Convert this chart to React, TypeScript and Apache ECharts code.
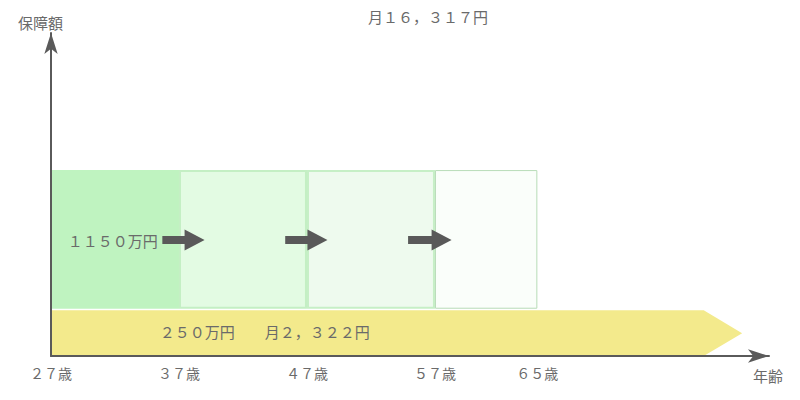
import React, { useEffect, useRef } from 'react';
import * as echarts from 'echarts';

// ---- data ----
const ageTicks = [27, 37, 47, 57, 65];
const coverageStartAges = [27, 37, 47, 57];
const coverageEndAges = [37, 47, 57, 65];
const coverageRange = [15, 59];
const bandAges = [27, 78, 81];
const bandRange = [0, 14.5];
const arrowStartAges = [35.7, 45.3, 54.9];
const arrowEndAges = [39.0, 48.6, 58.3];
const arrowLevel = 36.8;
const labelTexts = ['１１５０万円', '２５０万円　　月２，３２２円'];
const labelAges = [35.35, 35.5];
const labelLevels = [36.8, 7.9];
const premiumLabel = '月１６，３１７円';
const yAxisName = '保障額';
const xAxisName = '年齢';

// ---- styles ----
const FONT = '"Noto Sans CJK JP", "Noto Sans", sans-serif';
const TEXT_COLOR = '#6a6a6a';
const AXIS_COLOR = '#5a5a5a';
const blockStyles = [
  { fill: '#bff3c0', stroke: '#bff3c0', lineWidth: 0 },
  { fill: '#e3fbe3', stroke: '#c4efc4', lineWidth: 2 },
  { fill: '#eefaee', stroke: '#c6efc6', lineWidth: 2 },
  { fill: '#fafefa', stroke: '#b8dcb8', lineWidth: 1 },
];
const labelAligns = ['right', 'left'];

const toFullWidth = (v: number | string) =>
  String(v).replace(/[0-9]/g, (d) => String.fromCharCode(d.charCodeAt(0) + 0xfee0));

export default function App() {
  const ref = useRef<HTMLDivElement>(null);
  useEffect(() => {
    document.body.style.margin = '0';
    if (!ref.current) return;
    const chart = echarts.init(ref.current, null, { renderer: 'svg' });

    const blockData = coverageStartAges.map((s, i) => [s, coverageEndAges[i], coverageRange[0], coverageRange[1]]);
    const bandData = [[bandAges[0], bandAges[1], bandAges[2], bandRange[0], bandRange[1]]];
    const arrowData = arrowStartAges.map((s, i) => [s, arrowEndAges[i], arrowLevel]);
    const labelData = labelTexts.map((_, i) => [labelAges[i], labelLevels[i]]);

    chart.setOption({
      animation: false,
      grid: { left: 51, right: 31, top: 33, bottom: 44 },
      xAxis: {
        type: 'value',
        min: 27,
        max: 83.1,
        z: 5,
        axisLine: {
          show: true,
          lineStyle: { color: AXIS_COLOR, width: 2 },
          symbol: ['none', 'arrow'],
          symbolSize: [10, 21],
        },
        axisTick: { show: false },
        splitLine: { show: false },
        axisLabel: {
          customValues: ageTicks,
          formatter: (v: number) => toFullWidth(v) + '歳',
          color: TEXT_COLOR,
          fontSize: 14,
          fontFamily: FONT,
          margin: 10,
        },
      },
      yAxis: {
        type: 'value',
        min: 0,
        max: 102.5,
        z: 5,
        axisLine: {
          show: true,
          lineStyle: { color: AXIS_COLOR, width: 2 },
          symbol: ['none', 'arrow'],
          symbolSize: [10, 21],
        },
        axisTick: { show: false },
        axisLabel: { show: false },
        splitLine: { show: false },
      },
      graphic: [
        { type: 'text', left: 18, top: 15, style: { text: yAxisName, fill: TEXT_COLOR, font: `15px ${FONT}` } },
        { type: 'text', left: 753, top: 368, style: { text: xAxisName, fill: TEXT_COLOR, font: `15px ${FONT}` } },
        { type: 'text', left: 368, top: 9, style: { text: premiumLabel, fill: TEXT_COLOR, font: `15px ${FONT}` } },
      ],
      series: [
        {
          type: 'custom',
          name: 'band',
          encode: { x: [0, 1, 2], y: [3, 4] },
          data: bandData,
          renderItem: (params: any, api: any) => {
            const lowY = api.coord([api.value(0), api.value(3)])[1];
            const highY = api.coord([api.value(0), api.value(4)])[1];
            const x0 = api.coord([api.value(0), 0])[0];
            const x1 = api.coord([api.value(1), 0])[0];
            const x2 = api.coord([api.value(2), 0])[0];
            const midY = (lowY + highY) / 2;
            return {
              type: 'polygon',
              shape: { points: [[x0, highY], [x1, highY], [x2, midY], [x1, lowY], [x0, lowY]] },
              style: { fill: '#f3ea8c' },
            };
          },
        },
        {
          type: 'custom',
          name: 'coverage',
          encode: { x: [0, 1], y: [2, 3] },
          data: blockData,
          renderItem: (params: any, api: any) => {
            const p0 = api.coord([api.value(0), api.value(3)]);
            const p1 = api.coord([api.value(1), api.value(2)]);
            const st = blockStyles[params.dataIndex];
            const inset = st.lineWidth / 2;
            return {
              type: 'rect',
              shape: {
                x: p0[0] + inset,
                y: p0[1] + inset,
                width: p1[0] - p0[0] - 2 * inset,
                height: p1[1] - p0[1] - 2 * inset,
              },
              style: { fill: st.fill, stroke: st.lineWidth ? st.stroke : 'none', lineWidth: st.lineWidth },
            };
          },
        },
        {
          type: 'custom',
          name: 'arrows',
          encode: { x: [0, 1], y: 2 },
          data: arrowData,
          renderItem: (params: any, api: any) => {
            const a = api.coord([api.value(0), api.value(2)]);
            const b = api.coord([api.value(1), api.value(2)]);
            const y = a[1];
            const head = 20;
            const sh = 4;
            const hh = 10.5;
            return {
              type: 'polygon',
              shape: {
                points: [
                  [a[0], y - sh], [b[0] - head, y - sh], [b[0] - head, y - hh], [b[0], y],
                  [b[0] - head, y + hh], [b[0] - head, y + sh], [a[0], y + sh],
                ],
              },
              style: { fill: '#595959' },
            };
          },
        },
        {
          type: 'custom',
          name: 'labels',
          encode: { x: 0, y: 1 },
          data: labelData,
          renderItem: (params: any, api: any) => {
            const p = api.coord([api.value(0), api.value(1)]);
            return {
              type: 'text',
              x: p[0],
              y: p[1],
              style: {
                text: labelTexts[params.dataIndex],
                fill: TEXT_COLOR,
                font: `15px ${FONT}`,
                align: labelAligns[params.dataIndex],
                verticalAlign: 'middle',
              },
            };
          },
        },
      ],
    });
    return () => chart.dispose();
  }, []);
  return <div ref={ref} style={{ width: 800, height: 400 }} />;
}
